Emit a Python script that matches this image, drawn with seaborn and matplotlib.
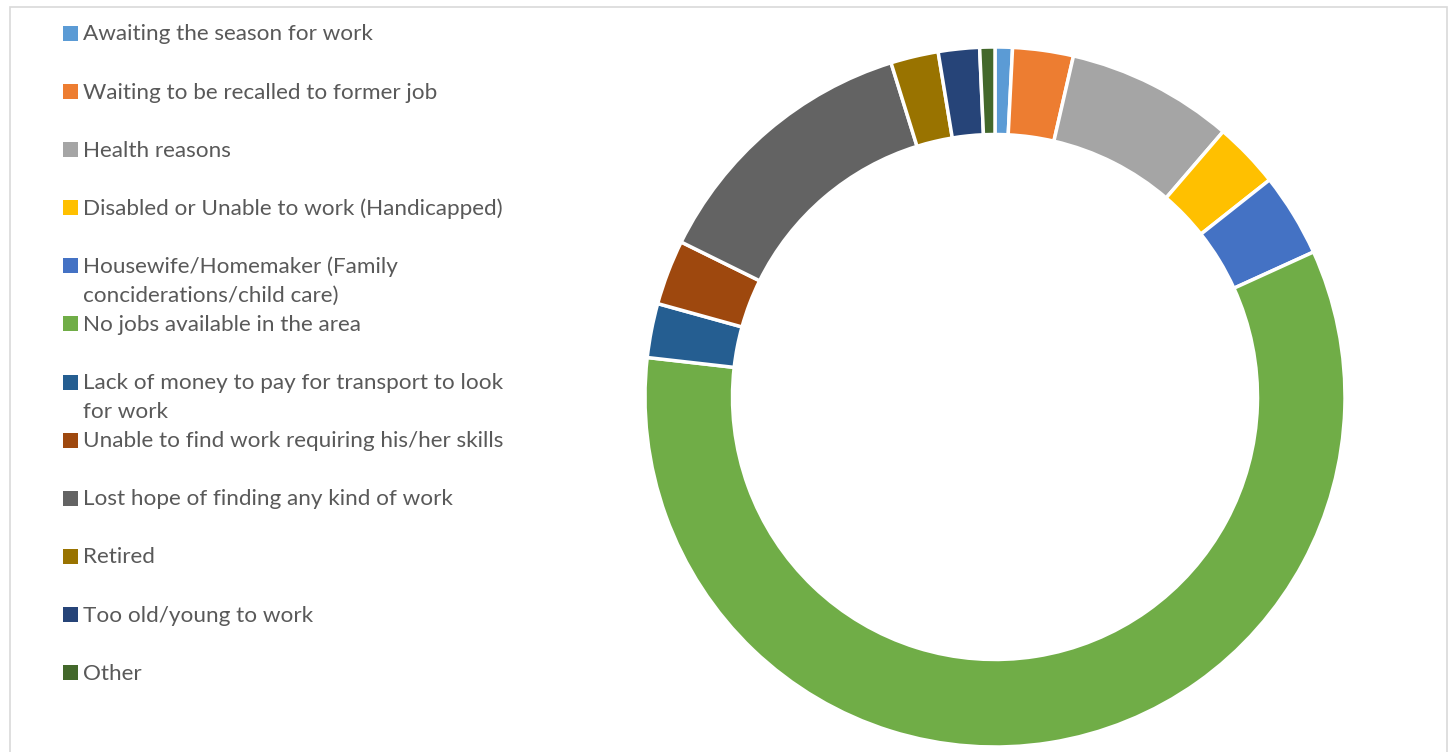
import matplotlib
matplotlib.use("Agg")
import matplotlib.pyplot as plt
from matplotlib.patches import Rectangle
import seaborn as sns

categories = [
    "Awaiting the season for work",
    "Waiting to be recalled to former job",
    "Health reasons",
    "Disabled or Unable to work (Handicapped)",
    "Housewife/Homemaker (Family\nconciderations/child care)",
    "No jobs available in the area",
    "Lack of money to pay for transport to look\nfor work",
    "Unable to find work requiring his/her skills",
    "Lost hope of finding any kind of work",
    "Retired",
    "Too old/young to work",
    "Other",
]
values = [0.8, 2.8, 7.7, 3.05, 3.85, 58.6, 2.5, 3.0, 12.9, 2.2, 1.9, 0.7]
colors = ["#5B9BD5", "#ED7D31", "#A5A5A5", "#FFC000", "#4472C4", "#70AD47",
          "#255E91", "#9E480E", "#636363", "#997300", "#264478", "#43682B"]

sns.set_theme(style="white")
palette = sns.color_palette(colors)
plt.rcParams["font.family"] = ["Lato", "DejaVu Sans"]

W, H = 1450, 752
fig = plt.figure(figsize=(W / 100, H / 100), dpi=100)
fig.patch.set_facecolor("white")

# outer frame
fig.patches.append(Rectangle((10 / W, -0.01), (1447 - 10) / W, (H - 7) / H + 0.01,
                             transform=fig.transFigure, fill=False,
                             edgecolor="#D9D9D9", linewidth=1.2))

# donut
cx, cy, r = 995, 397, 350
ax = fig.add_axes([(cx - r) / W, (H - cy - r) / H, 2 * r / W, 2 * r / H])
wedges, _ = ax.pie(values, colors=palette, startangle=90, counterclock=False,
                   radius=1.0, wedgeprops=dict(width=0.25, edgecolor="white",
                                               linewidth=2.5))
for w in wedges:
    w.set_clip_on(False)
ax.set_xlim(-1, 1)
ax.set_ylim(-1, 1)
ax.set_aspect("auto")
ax.axis("off")

# legend (manual, Excel-like)
y0, step, line_h = 33.5, 58.1, 29
for i, (lab, col) in enumerate(zip(categories, palette)):
    yc = y0 + i * step
    fig.patches.append(Rectangle((63 / W, (H - yc - 7.5) / H), 15 / W, 15 / H,
                                 transform=fig.transFigure, facecolor=col,
                                 edgecolor="none"))
    for k, line in enumerate(lab.split("\n")):
        fig.text(83 / W, (H - (yc + 7 + k * line_h)) / H, line, ha="left",
                 va="baseline", fontsize=16.2, color="#595959")

fig.savefig("out.png", dpi=100)
